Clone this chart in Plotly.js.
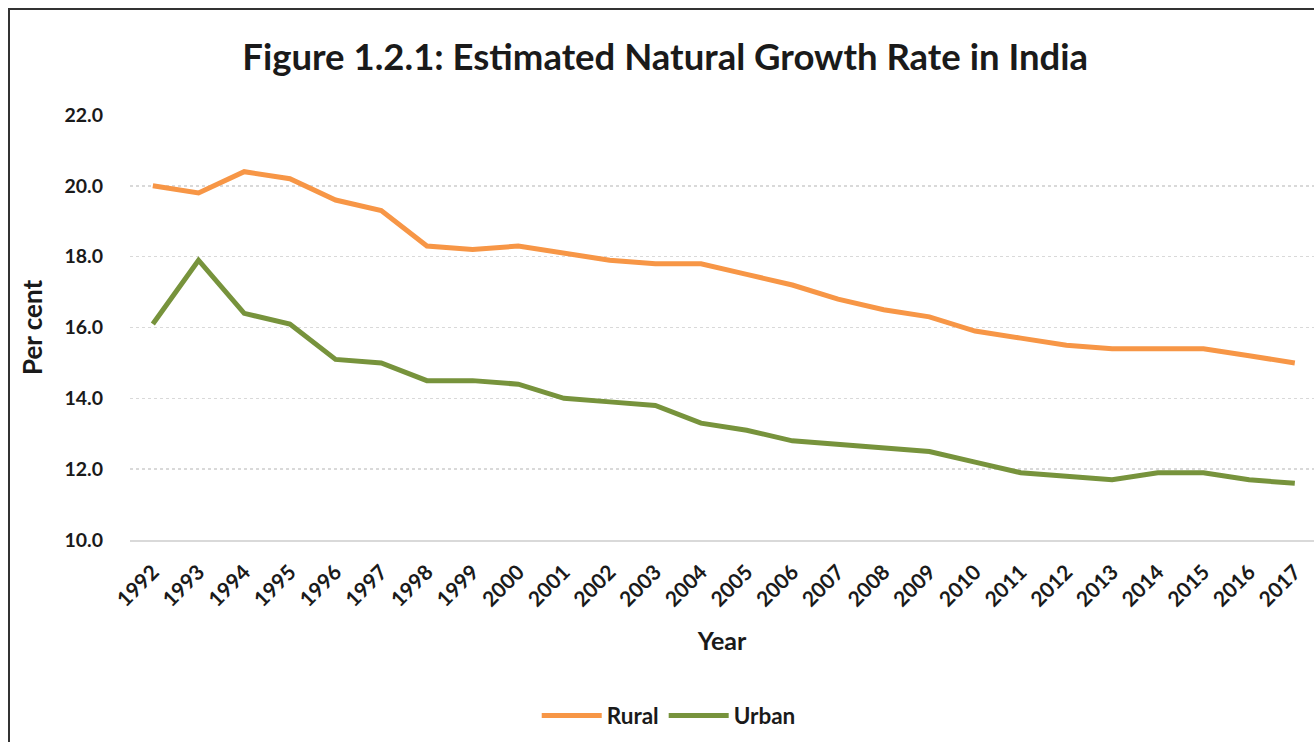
<!DOCTYPE html>
<html>
<head>
<meta charset="utf-8">
<script src="https://cdn.plot.ly/plotly-3.0.1.min.js"></script>
<style>
html,body{margin:0;padding:0;background:#fff;}
#wrap{position:relative;width:1314px;height:742px;}
#chart{width:1314px;height:742px;}
#frame{position:absolute;left:8px;top:8px;width:1320px;height:760px;border-left:2px solid #333;border-top:2px solid #333;pointer-events:none;}
</style>
</head>
<body>
<div id="wrap"><div id="chart"></div><div id="frame"></div></div>
<script>
const years = ["1992","1993","1994","1995","1996","1997","1998","1999","2000","2001","2002","2003","2004","2005","2006","2007","2008","2009","2010","2011","2012","2013","2014","2015","2016","2017"];
const rural = [20.0,19.8,20.4,20.2,19.6,19.3,18.3,18.2,18.3,18.1,17.9,17.8,17.8,17.5,17.2,16.8,16.5,16.3,15.9,15.7,15.5,15.4,15.4,15.4,15.2,15.0];
const urban = [16.1,17.9,16.4,16.1,15.1,15.0,14.5,14.5,14.4,14.0,13.9,13.8,13.3,13.1,12.8,12.7,12.6,12.5,12.2,11.9,11.8,11.7,11.9,11.9,11.7,11.6];
const yTicks = [10,12,14,16,18,20,22];

const font = "Lato, 'Open Sans', sans-serif";
const ink = "#1a1a1a";

const traces = [
  {x: years, y: rural, name: "Rural", type: "scatter", mode: "lines",
   line: {color: "#F79646", width: 5}},
  {x: years, y: urban, name: "Urban", type: "scatter", mode: "lines",
   line: {color: "#77933C", width: 5}}
];

const layout = {
  width: 1314, height: 742,
  margin: {l: 130, r: 0, t: 115, b: 202},
  paper_bgcolor: "#fff", plot_bgcolor: "#fff",
  font: {family: font, color: ink},
  title: {text: "Figure 1.2.1: Estimated Natural Growth Rate in India",
          font: {family: font, size: 36.5, color: ink, weight: "bold"},
          x: 0.452, xanchor: "center", xref: "paper", y: 0.923, yanchor: "middle", yref: "container"},
  xaxis: {type: "category", range: [-0.5, 25.42], showgrid: false,
          showline: true, linecolor: "#d9d9d9", linewidth: 1.5,
          ticks: "", tickangle: -45, ticklabelstandoff: 10,
          tickfont: {family: font, size: 21, color: ink, weight: "bold"},
          title: {text: "Year", font: {family: font, size: 25, color: ink, weight: "bold"}, standoff: 22},
          fixedrange: true},
  yaxis: {range: [10, 22], tickvals: yTicks, ticktext: yTicks.map(v => v.toFixed(1)),
          showgrid: true, gridcolor: "#d9d9d9", gridwidth: 1.5, griddash: "dot",
          zeroline: false, showline: false, ticks: "", ticklabelstandoff: 26,
          tickfont: {family: font, size: 19.5, color: ink, weight: "bold"},
          title: {text: "Per cent", font: {family: font, size: 26, color: ink, weight: "bold"}, standoff: 14},
          fixedrange: true},
  showlegend: true,
  legend: {orientation: "h", x: 0.455, xanchor: "center", y: -0.414, yanchor: "middle",
           font: {family: font, size: 22.5, color: ink, weight: "bold"}, itemwidth: 60, tracegroupgap: 0},
};

Plotly.newPlot("chart", traces, layout, {displayModeBar: false, staticPlot: true});
</script>
</body>
</html>
